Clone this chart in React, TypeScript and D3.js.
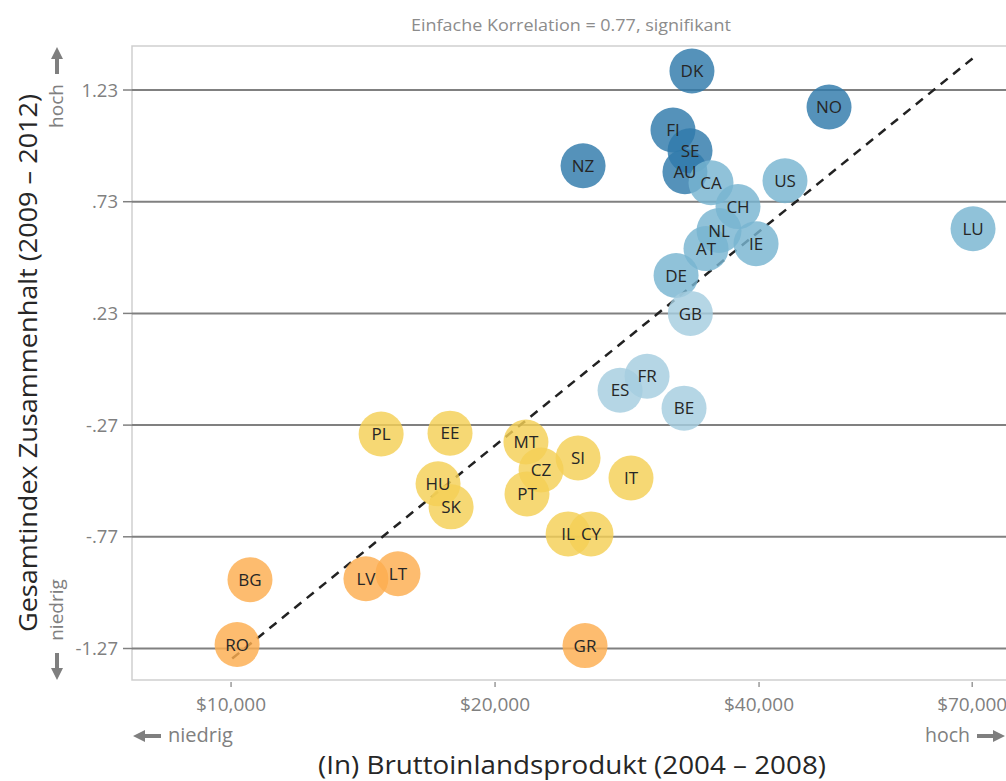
import React from "react";
import * as d3 from "d3";

const countries = ["DK","NO","FI","SE","NZ","AU","CA","US","CH","NL","LU","AT","IE","DE","GB","FR","ES","BE","PL","EE","MT","SI","CZ","IT","HU","PT","SK","IL","CY","BG","LV","LT","RO","GR"];
const gdp = [33540,48070,31910,33370,25200,32930,35260,42820,37850,36010,70160,34800,39690,32170,33400,29810,27770,32850,14830,17770,21690,24870,22570,28580,17220,21750,17820,24230,25730,10510,14250,15500,10160,25330];
const cohesion = [1.315,1.154,1.051,0.958,0.891,0.864,0.815,0.824,0.708,0.601,0.609,0.52,0.542,0.4,0.23,-0.051,-0.114,-0.194,-0.31,-0.306,-0.346,-0.417,-0.471,-0.507,-0.533,-0.578,-0.636,-0.757,-0.757,-0.962,-0.958,-0.935,-1.252,-1.257];
const group = [0,0,0,0,0,0,1,1,1,1,1,1,1,1,2,2,2,2,3,3,3,3,3,3,3,3,3,3,3,4,4,4,4,4];
const groupColors = ["#2f7aab","#78b5d1","#a5cddf","#f4cf55","#fcad4f"];
const yTicks = [1.23, 0.73, 0.23, -0.27, -0.77, -1.27];
const yTickLabels = ["1.23", ".73", ".23", "-.27", "-.77", "-1.27"];
const xTicks = [10000, 20000, 40000, 70000];
const xTickLabels = ["$10,000", "$20,000", "$40,000", "$70,000"];
const trendX = [10030, 70160];
const trendY = [-1.315, 1.373];

const FONT = "'Open Sans', 'Noto Sans', sans-serif";

export default function App() {
  const W = 1006, H = 781;
  const left = 132, right = 1006, top = 46, bottom = 680;
  const x = d3.scaleLog().domain([7710, 76500]).range([left, right]);
  const y = d3.scaleLinear().domain([-1.411, 1.427]).range([bottom, top]);
  const line = d3.line<number>().x((d, i) => x(trendX[i])).y((d) => y(d));
  const r = 22.5;
  const grey = "#808080";
  const arrowG = "#7f7f7f";

  return (
    <svg width={W} height={H} style={{ position: "fixed", left: 0, top: 0, background: "#fff" }} fontFamily={FONT}>
      <rect x={0} y={0} width={W} height={H} fill="#fff" />
      <text x={571} y={31} textAnchor="middle" fontSize={17} fill="#8c8c8c" textLength={320} lengthAdjust="spacingAndGlyphs">Einfache Korrelation = 0.77, signifikant</text>
      {/* frame */}
      <path d={`M${right},${top}H${left}V${bottom}H${right}`} fill="none" stroke="#cfcfcf" strokeWidth={1.5} />
      {/* grid */}
      {yTicks.map((t, i) => (
        <g key={"gy" + i}>
          <line x1={left} x2={right} y1={y(t)} y2={y(t)} stroke={grey} strokeWidth={2} />
          <line x1={123} x2={left} y1={y(t)} y2={y(t)} stroke={grey} strokeWidth={1.5} />
          <text x={118} y={y(t)} dy="0.36em" textAnchor="end" fontSize={18.5} fill="#808080">{yTickLabels[i]}</text>
        </g>
      ))}
      {xTicks.map((t, i) => (
        <g key={"gx" + i}>
          <line x1={x(t)} x2={x(t)} y1={bottom + 2} y2={bottom + 7} stroke={grey} strokeWidth={1.2} />
          <text x={x(t)} y={711} textAnchor="middle" fontSize={19} fill="#808080">{xTickLabels[i]}</text>
        </g>
      ))}
      {/* trend line */}
      <path d={line(trendY) || ""} fill="none" stroke="#222" strokeWidth={2.5} strokeDasharray="9,7" />
      {/* circles */}
      {countries.map((c, i) => (
        <circle key={"c" + c} cx={x(gdp[i])} cy={y(cohesion[i])} r={r} fill={groupColors[group[i]]} fillOpacity={0.82} />
      ))}
      {countries.map((c, i) => (
        <text key={"t" + c} x={x(gdp[i])} y={y(cohesion[i])} dy="0.36em" textAnchor="middle" fontSize={17} fill="#262626">{c}</text>
      ))}
      {/* x arrows */}
      <g fill={arrowG} stroke="none">
        <path d="M133,736 l12,-6 v4 h16 v4 h-16 v4 z" />
        <text x={168} y={742} fontSize={19.5} fill="#808080" textLength={65} lengthAdjust="spacingAndGlyphs">niedrig</text>
        <text x={970} y={742} textAnchor="end" fontSize={19.5} fill="#808080">hoch</text>
        <path d="M1005,736 l-12,-6 v4 h-16 v4 h16 v4 z" />
      </g>
      <text x={572} y={774} textAnchor="middle" fontSize={26} fill="#262626" textLength={508} lengthAdjust="spacingAndGlyphs">(In) Bruttoinlandsprodukt (2004 – 2008)</text>
      {/* y arrows */}
      <g fill={arrowG}>
        <path d="M57,47 l-6,12 h4 v15 h4 v-15 h4 z" />
        <text transform="translate(63,106) rotate(-90)" textAnchor="middle" fontSize={19} fill="#808080">hoch</text>
        <text transform="translate(63,610) rotate(-90)" textAnchor="middle" fontSize={19} fill="#808080">niedrig</text>
        <path d="M57,680 l-6,-12 h4 v-15 h4 v15 h4 z" />
      </g>
      <text transform="translate(37,363) rotate(-90)" textAnchor="middle" fontSize={26} fill="#262626" textLength={538} lengthAdjust="spacingAndGlyphs">Gesamtindex Zusammenhalt (2009 – 2012)</text>
    </svg>
  );
}
